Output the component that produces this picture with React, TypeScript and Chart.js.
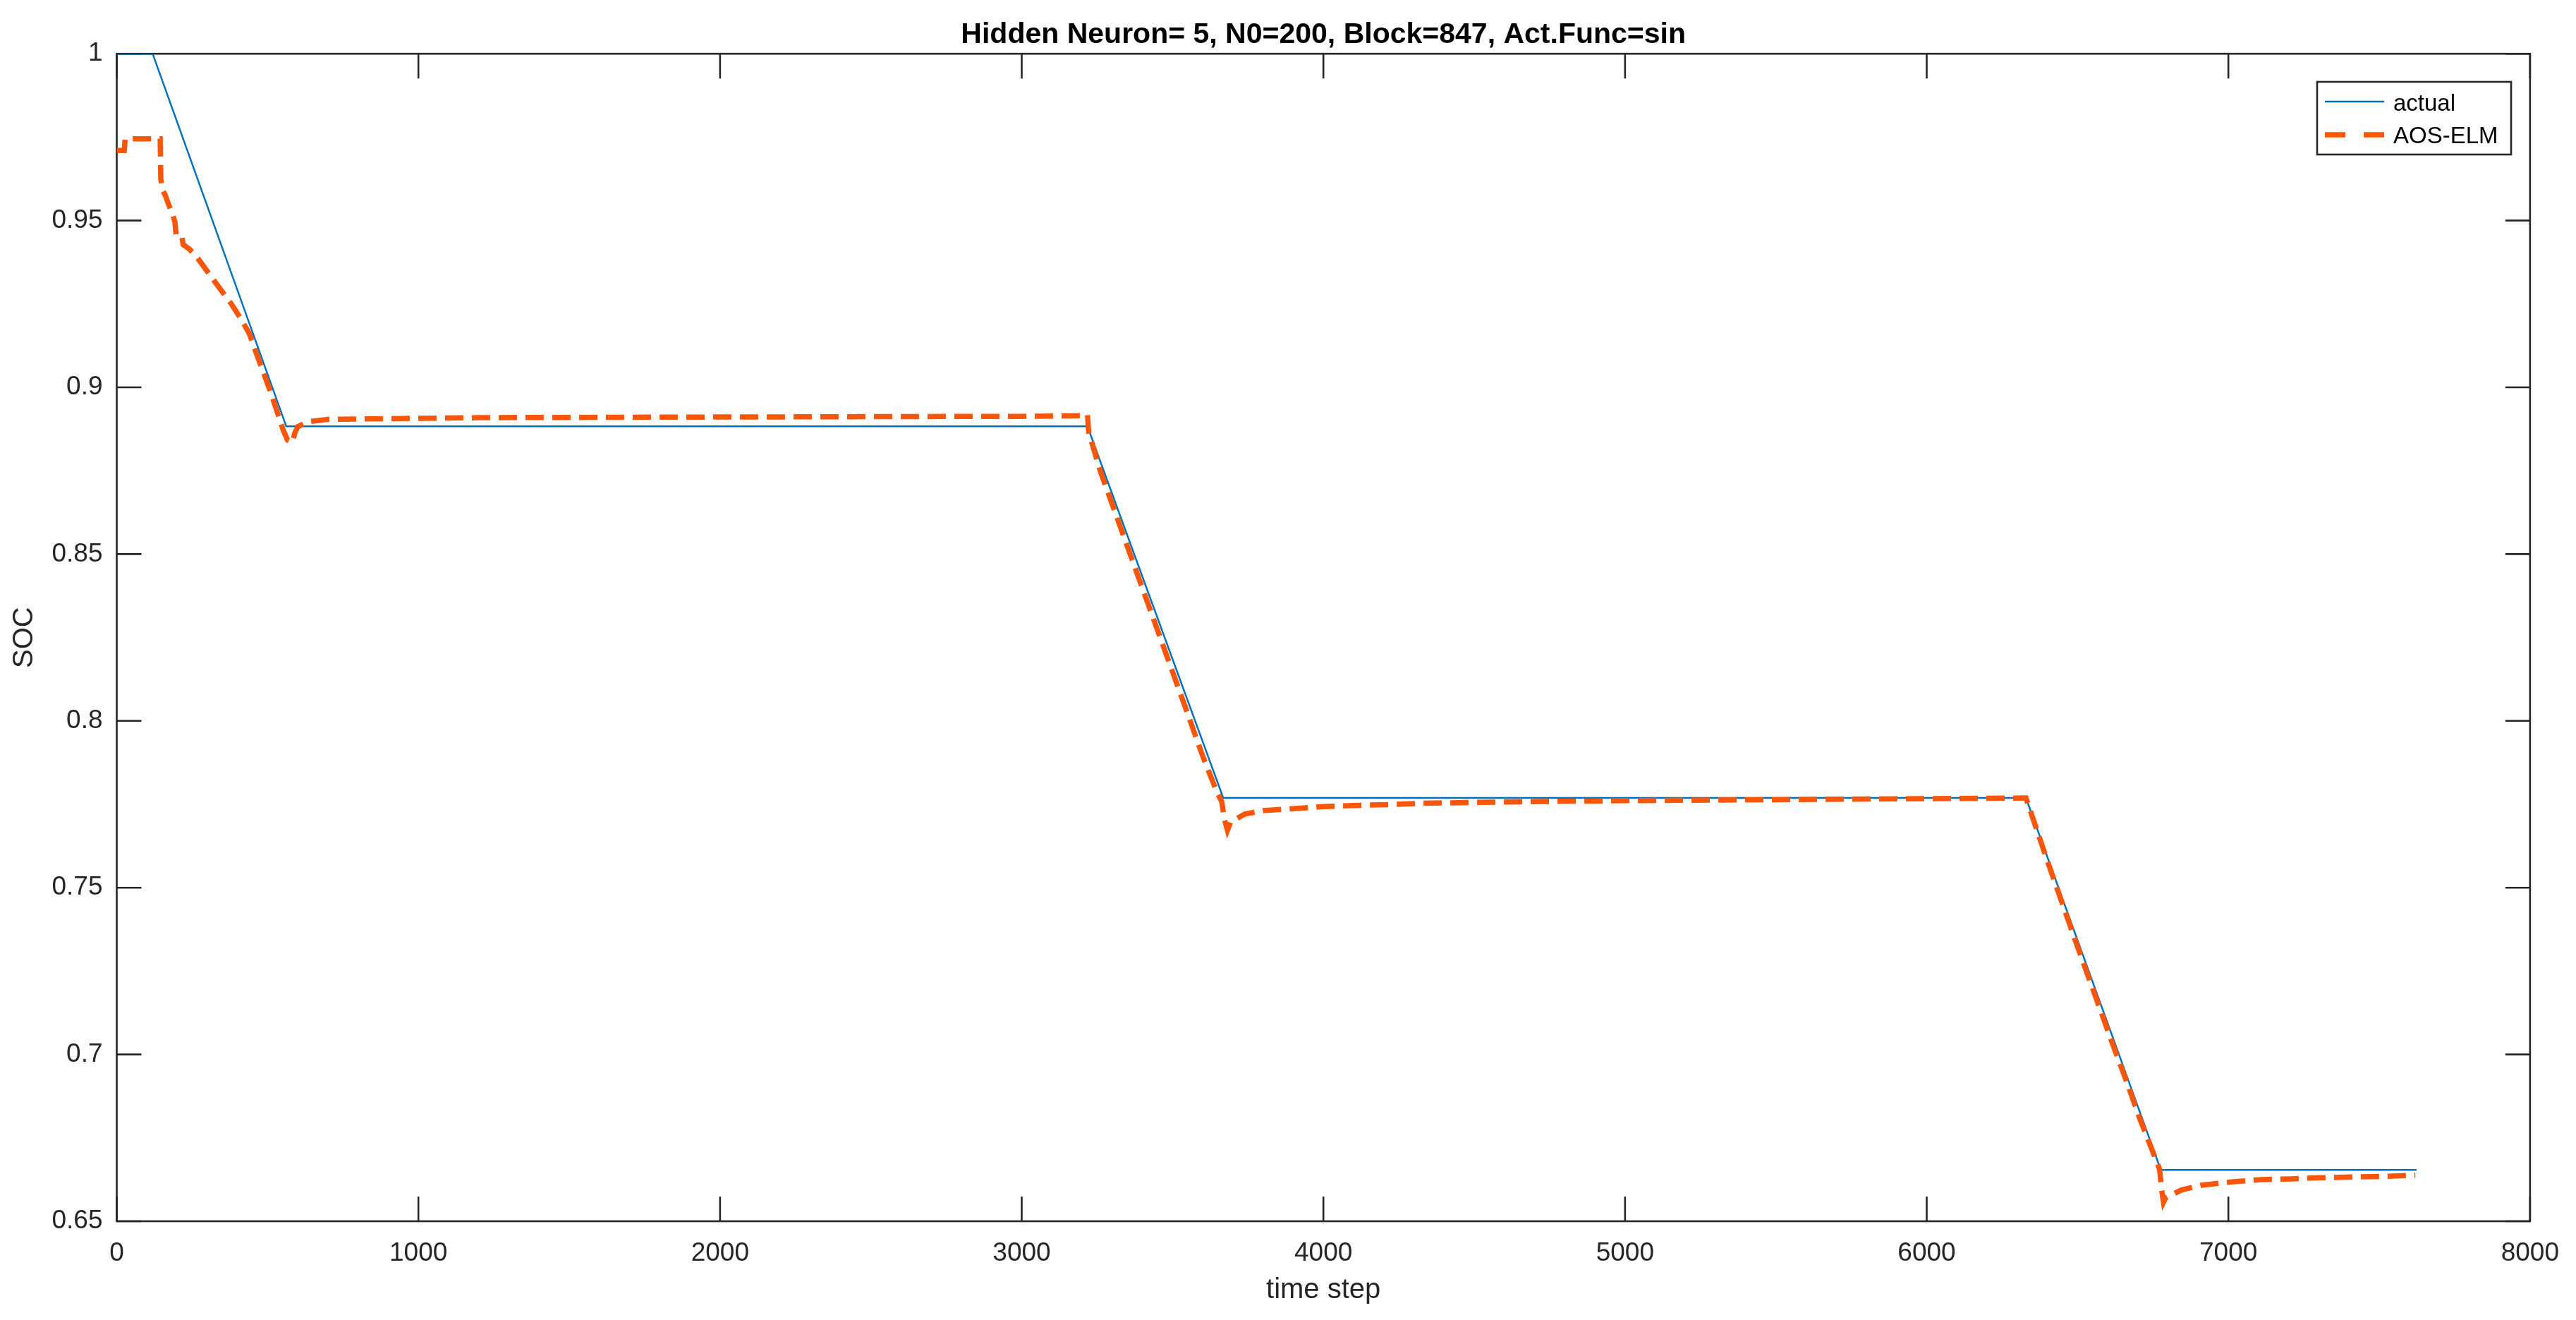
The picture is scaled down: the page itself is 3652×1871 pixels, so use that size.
import React, { useEffect, useRef } from "react";
import { Chart, registerables } from "chart.js";

Chart.register(...registerables);

// ---------- data ----------
const titleText = "Hidden Neuron= 5, N0=200, Block=847, Act.Func=sin";
const xLabel = "time step";
const yLabel = "SOC";
const seriesLabels = ["actual", "AOS-ELM"];

const xTicks = [0, 1000, 2000, 3000, 4000, 5000, 6000, 7000, 8000];
const yTicks = [0.65, 0.7, 0.75, 0.8, 0.85, 0.9, 0.95, 1];

const actualT = [0, 119, 562, 3218, 3668, 6329, 6776, 7624];
const actualSOC = [1, 1, 0.8883, 0.8883, 0.7769, 0.7769, 0.6654, 0.6654];

const aosT = [
  0, 25, 28, 144, 146, 152, 160, 172, 185, 193, 197, 216, 220, 240, 267, 300,
  342, 380, 414, 440, 466, 510, 551, 566, 583, 590, 600, 636, 700, 900, 1200,
  2000, 3000, 3212, 3218, 3222, 3260, 3400, 3555, 3598, 3645, 3663, 3672, 3682,
  3692, 3740, 3800, 3900, 4000, 4120, 4220, 4320, 4600, 5000, 5500, 6000, 6329,
  6400, 6500, 6622, 6663, 6706, 6753, 6772, 6778, 6785, 6792, 6845, 6910, 7010,
  7110, 7210, 7290, 7390, 7480, 7530, 7620,
];
const aosSOC = [
  0.971, 0.971, 0.9745, 0.9745, 0.9625, 0.959, 0.9578, 0.9548, 0.952, 0.9495,
  0.9455, 0.9452, 0.9428, 0.9415, 0.9389, 0.9348, 0.9296, 0.925, 0.9202, 0.916,
  0.9094, 0.8986, 0.8874, 0.8842, 0.8835, 0.8862, 0.8882, 0.8897, 0.8904,
  0.8906, 0.8909, 0.8911, 0.8913, 0.8915, 0.8918, 0.8866, 0.875, 0.8398,
  0.8009, 0.7899, 0.7791, 0.7758, 0.7705, 0.7672, 0.7696, 0.7721, 0.7731,
  0.7737, 0.7743, 0.7747, 0.7749, 0.7753, 0.7757, 0.7761, 0.7764, 0.7767,
  0.7769, 0.758, 0.7323, 0.7017, 0.6918, 0.6808, 0.67, 0.6655, 0.66, 0.6557,
  0.657, 0.6594, 0.6608, 0.6618, 0.6625, 0.6627, 0.663, 0.6632, 0.6634, 0.6635,
  0.6638,
];

// ---------- styles ----------
const FONT = '"Liberation Sans", Arial, Helvetica, sans-serif';
const AXIS_COLOR = "#262626";
const BLUE = "#0072BD";
const ORANGE = "#FA560A";
const TICK_LEN = 35;

const fmtY = (v: number) => String(Number(v.toFixed(2)));

const matlabAxes = {
  id: "matlabAxes",
  beforeDatasetsDraw(chart: any) {
    const { ctx, chartArea } = chart;
    const { left, right, top, bottom } = chartArea;
    const xs = chart.scales.x;
    const ys = chart.scales.y;
    ctx.save();
    ctx.strokeStyle = AXIS_COLOR;
    ctx.lineWidth = 2.6;
    ctx.lineCap = "butt";
    ctx.beginPath();
    xs.ticks.forEach((t: any) => {
      const p = xs.getPixelForValue(t.value);
      ctx.moveTo(p, bottom);
      ctx.lineTo(p, bottom - TICK_LEN);
      ctx.moveTo(p, top);
      ctx.lineTo(p, top + TICK_LEN);
    });
    ys.ticks.forEach((t: any) => {
      const p = ys.getPixelForValue(t.value);
      ctx.moveTo(left, p);
      ctx.lineTo(left + TICK_LEN, p);
      ctx.moveTo(right, p);
      ctx.lineTo(right - TICK_LEN, p);
    });
    ctx.stroke();
    ctx.strokeRect(left, top, right - left, bottom - top);
    ctx.restore();
  },
  afterDraw(chart: any) {
    const { ctx } = chart;
    const ds = chart.data.datasets;
    const bx = 3285, by = 116, bw = 275, bh = 103;
    ctx.save();
    ctx.fillStyle = "#ffffff";
    ctx.fillRect(bx, by, bw, bh);
    ctx.strokeStyle = AXIS_COLOR;
    ctx.lineWidth = 2.6;
    ctx.strokeRect(bx, by, bw, bh);
    const rows = [
      { y: 144, label: ds[0].label, color: ds[0].borderColor, w: 2.5, dash: [] as number[], ty: 157 },
      { y: 191, label: ds[1].label, color: ds[1].borderColor, w: 7.5, dash: [29, 26], ty: 203 },
    ];
    rows.forEach((r) => {
      ctx.beginPath();
      ctx.setLineDash(r.dash);
      ctx.strokeStyle = r.color;
      ctx.lineWidth = r.w;
      ctx.moveTo(3296, r.y);
      ctx.lineTo(3380, r.y);
      ctx.stroke();
      ctx.setLineDash([]);
      ctx.fillStyle = "#000000";
      ctx.font = `33px ${FONT}`;
      ctx.textAlign = "left";
      ctx.textBaseline = "alphabetic";
      ctx.fillText(r.label, 3393, r.ty);
    });
    ctx.restore();
  },
};

export default function App() {
  const ref = useRef<HTMLCanvasElement>(null);

  useEffect(() => {
    if (!ref.current) return;
    const chart = new Chart(ref.current, {
      type: "line",
      data: {
        datasets: [
          {
            label: seriesLabels[0],
            data: actualT.map((t, i) => ({ x: t, y: actualSOC[i] })),
            borderColor: BLUE,
            backgroundColor: BLUE,
            borderWidth: 2.5,
            pointRadius: 0,
            tension: 0,
            fill: false,
            order: 1,
          },
          {
            label: seriesLabels[1],
            data: aosT.map((t, i) => ({ x: t, y: aosSOC[i] })),
            borderColor: ORANGE,
            backgroundColor: ORANGE,
            borderWidth: 7.5,
            borderDash: [26, 12],
            pointRadius: 0,
            tension: 0,
            fill: false,
            order: 0,
          },
        ],
      },
      options: {
        animation: false,
        responsive: false,
        devicePixelRatio: 1,
        events: [],
        layout: { padding: { left: 0, right: 54, top: 0, bottom: 0 } },
        plugins: {
          legend: { display: false },
          tooltip: { enabled: false },
          title: {
            display: true,
            text: titleText,
            color: "#000000",
            fullSize: false,
            font: { family: FONT, size: 41, weight: "bold", lineHeight: 1.2 },
            padding: { top: 25, bottom: 2 },
          },
        },
        scales: {
          x: {
            type: "linear",
            min: 0,
            max: 8000,
            grid: { display: false, drawTicks: false },
            border: { display: false },
            afterBuildTicks: (s: any) => {
              s.ticks = xTicks.map((v) => ({ value: v }));
            },
            afterFit: (s: any) => {
              s.height = 140;
            },
            ticks: {
              color: AXIS_COLOR,
              font: { family: FONT, size: 37 },
              padding: 24,
              maxRotation: 0,
              autoSkip: false,
              callback: (v: any) => String(v),
            },
            title: {
              display: true,
              text: xLabel,
              color: AXIS_COLOR,
              font: { family: FONT, size: 40, lineHeight: 1.2 },
              padding: { top: 0, bottom: 18 },
            },
          },
          y: {
            type: "linear",
            min: 0.65,
            max: 1,
            grid: { display: false, drawTicks: false },
            border: { display: false },
            afterBuildTicks: (s: any) => {
              s.ticks = yTicks.map((v) => ({ value: v }));
            },
            afterFit: (s: any) => {
              s.width = 165.5;
            },
            ticks: {
              color: AXIS_COLOR,
              font: { family: FONT, size: 37 },
              padding: 20,
              autoSkip: false,
              callback: (v: any) => fmtY(Number(v)),
            },
            title: {
              display: true,
              text: yLabel,
              color: AXIS_COLOR,
              font: { family: FONT, size: 40, lineHeight: 1.2 },
              padding: { top: 11, bottom: 0 },
            },
          },
        },
      },
      plugins: [matlabAxes],
    } as any);
    return () => chart.destroy();
  }, []);

  return (
    <div
      style={{
        position: "fixed",
        left: 0,
        top: 0,
        width: 3652,
        height: 1871,
        background: "#ffffff",
      }}
    >
      <canvas
        ref={ref}
        width={3652}
        height={1871}
        style={{ display: "block", width: 3652, height: 1871 }}
      />
    </div>
  );
}
